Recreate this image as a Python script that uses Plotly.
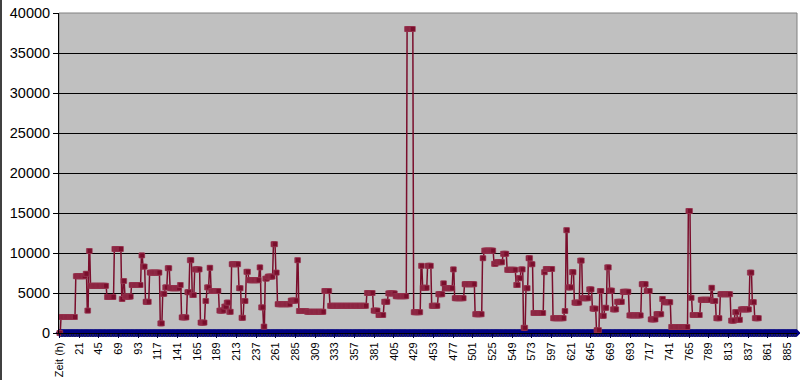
import numpy as np
import plotly.graph_objects as go

# ---- data ----
N_CATEGORIES = 900
x_tick_labels = ["Zeit (h)", "21", "45", "69", "93", "117", "141", "165", "189", "213",
                 "237", "261", "285", "309", "333", "357", "381", "405", "429", "453",
                 "477", "501", "525", "549", "573", "597", "621", "645", "669", "693",
                 "717", "741", "765", "789", "813", "837", "861", "885"]
LABEL_STEP = 24

# red series: plateau levels and how many consecutive hourly points sit on each
red_levels = [0, 2000, 7100, 7400, 2800, 10250, 5900, 4500, 10500, 4250,
              6500, 4550, 6000, 9700, 8300, 3900, 7550, 1200, 4900, 5700,
              8100, 5600, 6000, 1950, 5100, 9100, 4750, 7950, 1300, 4000,
              5700, 8150, 5250, 2800, 3300, 3800, 2650, 8600, 5600, 1900,
              4000, 7650, 6600, 8200, 3200, 800, 6800, 7050, 11100, 7550,
              3600, 4050, 9100, 2750, 2650, 5250, 3400, 5000, 2800, 2250,
              3900, 4950, 4600, 38000, 2600, 8400, 5650, 8400, 3400, 4850,
              6200, 5600, 7950, 4350, 6100, 2350, 9350, 10300, 8650, 8850,
              9900, 7900, 6000, 6850, 7950, 650, 5600, 9350, 8600, 2500,
              7600, 8000, 1850, 2750, 12850, 5700, 7600, 3800, 9050, 4350,
              5450, 3050, 350, 5250, 2150, 3150, 8200, 5300, 2950, 3900,
              5150, 2200, 6100, 5250, 1700, 2350, 4250, 3850, 750, 15250,
              4400, 2250, 4150, 5650, 4000, 1850, 4850, 1550, 2600, 1650,
              2950, 7550, 3850, 1850]
red_counts = [2, 18, 12, 2, 2, 2, 20, 9, 9, 2,
              2, 8, 12, 2, 3, 5, 13, 3, 3, 3,
              3, 12, 2, 7, 3, 3, 3, 7, 6, 2,
              3, 2, 10, 6, 3, 3, 3, 9, 3, 3,
              3, 3, 13, 2, 3, 2, 3, 7, 3, 2,
              16, 8, 2, 10, 21, 7, 45, 8, 6, 7,
              5, 9, 14, 8, 9, 2, 6, 5, 8, 6,
              2, 10, 2, 12, 13, 9, 2, 12, 3, 8,
              5, 11, 3, 3, 3, 3, 3, 3, 3, 13,
              2, 9, 14, 2, 2, 5, 3, 7, 3, 8,
              4, 5, 4, 3, 3, 3, 3, 4, 5, 7,
              8, 15, 6, 5, 7, 7, 2, 9, 21, 3,
              2, 10, 13, 2, 4, 5, 13, 5, 3, 4,
              11, 3, 3, 6]

# blue series: flat at zero over every category
blue_values = [0] * N_CATEGORIES

# ---- build ----
red_values = np.repeat(red_levels, red_counts)
red_x = np.arange(len(red_values))
blue_x = np.arange(N_CATEGORIES)
tick_positions = [i * LABEL_STEP for i in range(len(x_tick_labels))]

fig = go.Figure()
fig.add_trace(go.Scatter(
    x=blue_x, y=blue_values, mode="lines+markers",
    line=dict(color="#000080", width=2),
    marker=dict(symbol="diamond", size=6, color="#000080"),
    cliponaxis=False, hoverinfo="skip", showlegend=False))
fig.add_trace(go.Scatter(
    x=red_x, y=red_values, mode="lines+markers",
    line=dict(color="#7A0E2C", width=1.5),
    marker=dict(symbol="square", size=5, color="#7A0E2C",
                line=dict(color="#9C3A55", width=0.6)),
    cliponaxis=False, hoverinfo="skip", showlegend=False))

# plot-area border (gray) and chart-area left border
fig.add_shape(type="rect", xref="paper", yref="paper", x0=0, x1=1, y0=0, y1=1,
              line=dict(color="#808080", width=1), layer="below")
fig.add_shape(type="line", xref="paper", yref="paper",
              x0=(1 - 59) / 738, x1=(1 - 59) / 738, y0=-47 / 320, y1=1 + 13 / 320,
              line=dict(color="#404040", width=2))

fig.update_layout(
    width=800, height=380,
    margin=dict(l=59, r=3, t=13, b=47),
    paper_bgcolor="white", plot_bgcolor="#C0C0C0",
    font=dict(family="Liberation Sans, Arial, sans-serif", color="black"),
    showlegend=False,
)
fig.update_xaxes(
    range=[-0.5, N_CATEGORIES - 0.5],
    tickmode="array", tickvals=tick_positions, ticktext=x_tick_labels,
    tickangle=-90, tickfont=dict(size=11),
    showline=True, linecolor="black", linewidth=1,
    ticks="outside", ticklen=4, tickcolor="#000040",
    minor=dict(ticks="outside", dtick=2, tick0=0, ticklen=3, tickcolor="#1a1a66", tickwidth=1),
    showgrid=False, zeroline=False,
)
fig.update_yaxes(
    range=[0, 40000], dtick=5000, tickformat="d",
    tickfont=dict(size=14.5),
    showline=True, linecolor="black", linewidth=1,
    ticks="outside", ticklen=5, tickcolor="black",
    showgrid=True, gridcolor="black", gridwidth=1,
    zeroline=False,
)

fig.write_html("out.html")
